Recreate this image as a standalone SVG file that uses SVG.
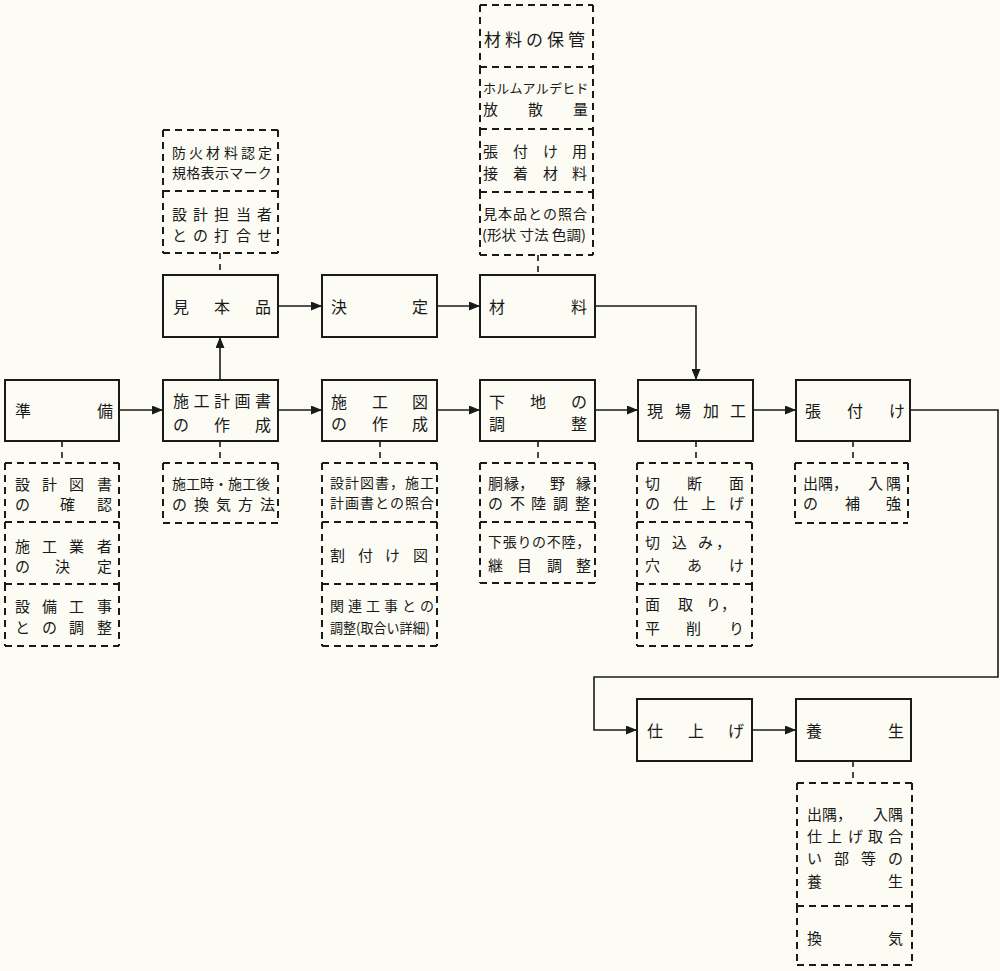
<svg xmlns="http://www.w3.org/2000/svg" width="1000" height="971" viewBox="0 0 1000 971">
<defs>
<marker id="ah" markerUnits="userSpaceOnUse" markerWidth="11" markerHeight="9" refX="11" refY="4.5" orient="auto"><path d="M0,0 L11,4.5 L0,9 z" fill="#1a1a1a"/></marker>
<style>
.bx{fill:none;stroke:#1a1a1a;stroke-width:2}
.db{fill:none;stroke:#1a1a1a;stroke-width:2;stroke-dasharray:7 5}
.cn{fill:none;stroke:#1a1a1a;stroke-width:1.6}
.ds{fill:none;stroke:#1a1a1a;stroke-width:1.6;stroke-dasharray:6 5}
text{font-family:'Noto Sans CJK JP','Noto Sans CJK SC',sans-serif;fill:#1a1a1a;dominant-baseline:central}
.t{font-size:16px}
.d{font-size:15px}
.s{font-size:14px}
.k{font-size:13px}
</style>
</defs>
<rect x="0" y="0" width="1000" height="971" fill="#fcfcf4"/>

<g id="connectors">
<path class="cn" d="M119,410 H163" marker-end="url(#ah)"/>
<path class="cn" d="M278,410 H322" marker-end="url(#ah)"/>
<path class="cn" d="M220,380 V337" marker-end="url(#ah)"/>
<path class="cn" d="M278,306 H322" marker-end="url(#ah)"/>
<path class="cn" d="M437,306 H480" marker-end="url(#ah)"/>
<path class="cn" d="M595,306 H696 V380" marker-end="url(#ah)"/>
<path class="cn" d="M437,410 H480" marker-end="url(#ah)"/>
<path class="cn" d="M595,410 H638" marker-end="url(#ah)"/>
<path class="cn" d="M753,410 H796" marker-end="url(#ah)"/>
<path class="cn" d="M910,410 H998 V677 H594 V730 H637" marker-end="url(#ah)"/>
<path class="cn" d="M752,730 H796" marker-end="url(#ah)"/>
<path class="ds" d="M62,441 V463 M220,441 V463 M380,441 V463 M538,441 V463 M696,441 V463 M853,441 V463 M853,761 V783 M220,253 V275 M538,255 V275"/>
</g>

<!-- main nodes -->
<g id="n-junbi"><rect class="bx" x="5" y="380" width="114" height="61"/><text class="t" x="15 97" y="410">準備</text></g>
<g id="n-sekokeikaku"><rect class="bx" x="163" y="380" width="115" height="61"/><text class="t" x="173 193.5 214 234.5 255" y="400">施工計画書</text><text class="t" x="173 214 255" y="424">の作成</text></g>
<g id="n-mihon"><rect class="bx" x="163" y="275" width="115" height="62"/><text class="t" x="173 214 255" y="306">見本品</text></g>
<g id="n-kettei"><rect class="bx" x="322" y="275" width="115" height="62"/><text class="t" x="331 412" y="306">決定</text></g>
<g id="n-zairyo"><rect class="bx" x="480" y="275" width="115" height="62"/><text class="t" x="489 571" y="306">材料</text></g>
<g id="n-sekozu"><rect class="bx" x="322" y="380" width="115" height="61"/><text class="t" x="331 372 412" y="401">施工図</text><text class="t" x="331 372 412" y="423">の作成</text></g>
<g id="n-shitaji"><rect class="bx" x="480" y="380" width="115" height="61"/><text class="t" x="489 530 571" y="401">下地の</text><text class="t" x="489 571" y="423">調整</text></g>
<g id="n-genba"><rect class="bx" x="638" y="380" width="115" height="61"/><text class="t" x="647 675 703 730" y="410">現場加工</text></g>
<g id="n-haritsuke"><rect class="bx" x="796" y="380" width="114" height="61"/><text class="t" x="805 847 889" y="410">張付け</text></g>
<g id="n-shiage"><rect class="bx" x="637" y="699" width="115" height="62"/><text class="t" x="647 688 728" y="730">仕上げ</text></g>
<g id="n-yojo"><rect class="bx" x="796" y="699" width="115" height="62"/><text class="t" x="806 888" y="730">養生</text></g>

<!-- top-left dashed column -->
<g id="d-bouka"><path class="db" d="M163,130 H278 M163,130 V191 M278,130 V191"/><text class="s" x="172 189 206 224 241 258" y="152">防火材料認定</text><text class="s" x="172 186.3 200.6 214.9 229.2 243.5 257.8" y="172">規格表示マーク</text></g>
<g id="d-sekkei"><path class="db" d="M163,191 H278 M163,191 V253 M278,191 V253 M163,253 H278"/><text class="d" x="172 193 214 236 257" y="213">設計担当者</text><text class="d" x="172 193 214 236 257" y="234">との打合せ</text></g>

<!-- materials dashed column -->
<g id="d-hokan"><path class="db" d="M480,5 H593 M480,5 V67 M593,5 V67"/><text class="t" style="font-size:17px" x="484 505 526 547 568" y="38">材料の保管</text></g>
<g id="d-formal"><path class="db" d="M480,67 H593 M480,67 V129 M593,67 V129"/><text class="k" x="483 496.2 509.4 522.6 535.8 549 562.2 575.4" y="87">ホルムアルデヒド</text><text class="d" x="483 528 573" y="108">放散量</text></g>
<g id="d-setchaku"><path class="db" d="M480,129 H593 M480,129 V192 M593,129 V192"/><text class="d" x="483 513 543 572" y="150">張付け用</text><text class="d" x="483 513 543 572" y="172">接着材料</text></g>
<g id="d-shogo"><path class="db" d="M480,192 H593 M480,192 V255 M593,192 V255 M480,255 H593"/><text class="s" x="483 498 513 528 543 558 573" y="213">見本品との照合</text><text class="s" x="482" y="234" textLength="104" lengthAdjust="spacingAndGlyphs">(形状 寸法 色調)</text></g>

<!-- under 準備 -->
<g id="d-kakunin"><path class="db" d="M5,463 H119 M5,463 V522 M119,463 V522"/><text class="d" x="15 42 69 97" y="483">設計図書</text><text class="d" x="15 60 97" y="503">の確認</text></g>
<g id="d-gyosha"><path class="db" d="M5,522 H119 M5,522 V584 M119,522 V584"/><text class="d" x="15 42 69 97" y="545">施工業者</text><text class="d" x="15 55 97" y="565">の決定</text></g>
<g id="d-setsubi"><path class="db" d="M5,584 H119 M5,584 V646 M119,584 V646 M5,646 H119"/><text class="d" x="15 42 69 97" y="605">設備工事</text><text class="d" x="15 42 69 97" y="626">との調整</text></g>

<!-- under 施工計画書 -->
<g id="d-kanki"><path class="db" d="M163,463 H278 M163,463 V523 M278,463 V523 M163,523 H278"/><text class="s" x="172 186 200 214 228 242 256" y="483">施工時・施工後</text><text class="d" x="172 194 216 238 260" y="503">の換気方法</text></g>

<!-- under 施工図 -->
<g id="d-shogo2"><path class="db" d="M322,463 H437 M322,463 V522 M437,463 V522"/><text class="s" x="330 345 360 375 390 405 420" y="482">設計図書，施工</text><text class="s" x="330 345 360 375 390 405 420" y="502">計画書との照合</text></g>
<g id="d-waritsuke"><path class="db" d="M322,522 H437 M322,522 V584 M437,522 V584"/><text class="d" x="330 358 385 413" y="554">割付け図</text></g>
<g id="d-kanren"><path class="db" d="M322,584 H437 M322,584 V646 M437,584 V646 M322,646 H437"/><text class="s" x="330 348 366 384 402 420" y="605">関連工事との</text><text class="s" x="330" y="627" textLength="100" lengthAdjust="spacingAndGlyphs">調整(取合い詳細)</text></g>

<!-- under 下地の調整 -->
<g id="d-dobuchi"><path class="db" d="M480,463 H595 M480,463 V522 M595,463 V522"/><text class="d" x="488 504 519 550 576" y="482">胴縁，野縁</text><text class="d" x="488 510 531 553 575" y="502">の不陸調整</text></g>
<g id="d-shitabari"><path class="db" d="M480,522 H595 M480,522 V583 M595,522 V583 M480,583 H595"/><text class="s" x="488 502.7 517.4 532.1 546.8 561.5 576.2" y="541">下張りの不陸，</text><text class="d" x="488 517 547 576" y="564">継目調整</text></g>

<!-- under 現場加工 -->
<g id="d-setsudan"><path class="db" d="M637,463 H752 M637,463 V522 M752,463 V522"/><text class="d" x="645 687 729" y="482">切断面</text><text class="d" x="645 673 701 729" y="502">の仕上げ</text></g>
<g id="d-kirikomi"><path class="db" d="M637,522 H752 M637,522 V584 M752,522 V584"/><text class="d" x="645 672 698 716" y="541">切込み，</text><text class="d" x="645 687 729" y="564">穴あけ</text></g>
<g id="d-mentori"><path class="db" d="M637,584 H752 M637,584 V646 M752,584 V646 M637,646 H752"/><text class="d" x="645 678 706 721" y="603">面取り，</text><text class="d" x="645 686 729" y="627">平削り</text></g>

<!-- under 張付け -->
<g id="d-hokyo"><path class="db" d="M795,463 H908 M795,463 V523 M908,463 V523 M795,523 H908"/><text class="d" x="803 818 833 868 886" y="482">出隅，入隅</text><text class="d" x="803 845 886" y="502">の補強</text></g>

<!-- under 養生 -->
<g id="d-yojo"><path class="db" d="M797,783 H912 M797,783 V906 M912,783 V906"/><text class="d" x="807 822 837 873 888" y="813">出隅，入隅</text><text class="d" x="807 827 848 868 888" y="835">仕上げ取合</text><text class="d" x="807 834 861 888" y="857">い部等の</text><text class="d" x="807 888" y="880">養生</text></g>
<g id="d-kanki2"><path class="db" d="M797,906 H912 M797,906 V965 M912,906 V965 M797,965 H912"/><text class="d" x="807 888" y="937">換気</text></g>
</svg>
